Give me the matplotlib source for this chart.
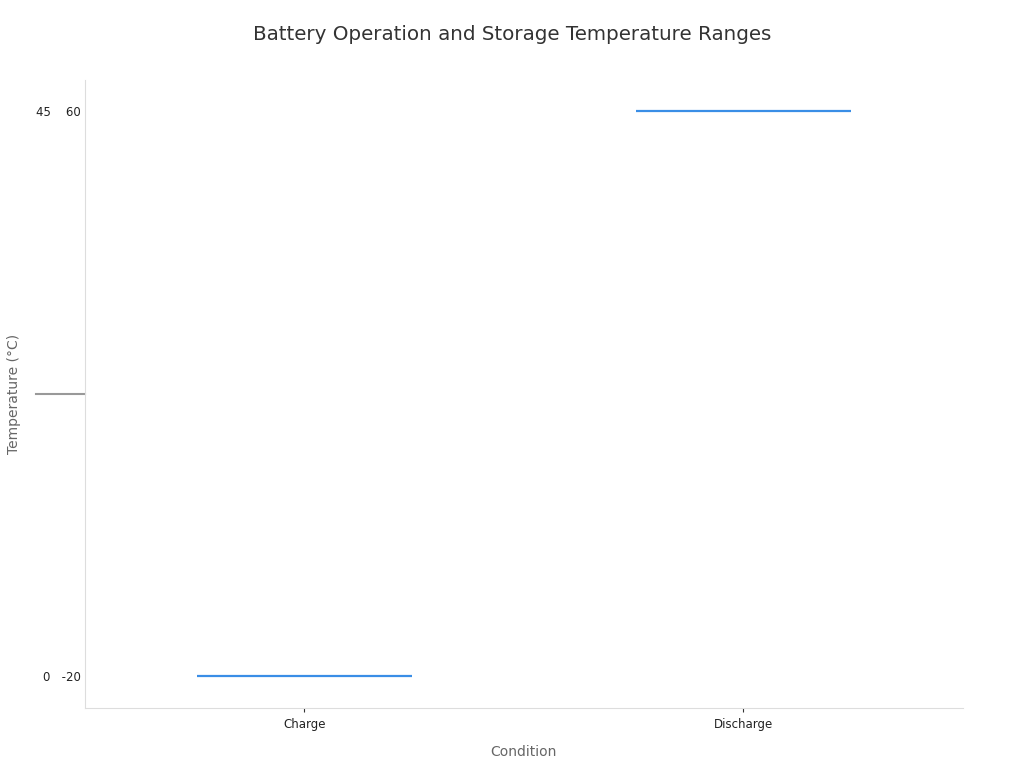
import matplotlib
matplotlib.use("Agg")
import matplotlib.pyplot as plt

conditions = ["Charge", "Discharge"]
range_labels = ["0   -20", "45    60"]
line_color = "#3a8ee6"

fig = plt.figure(figsize=(10.24, 7.68), dpi=100)
ax = fig.add_axes([0.083, 0.078, 0.857, 0.818])

x_pos = list(range(len(conditions)))
ax.hlines(x_pos, [x - 0.245 for x in x_pos], [x + 0.245 for x in x_pos],
          color=line_color, linewidth=1.6)

ax.set_xlim(-0.5, len(conditions) - 0.5)
ax.set_ylim(-0.056, 1.055)
ax.set_xticks(x_pos)
ax.set_xticklabels(conditions, fontsize=8.5, color="#222222")
ax.set_yticks(x_pos)
ax.set_yticklabels(range_labels, fontsize=8.5, color="#222222")
ax.tick_params(axis="x", length=3, width=0.8, color="#333333", pad=4)
ax.tick_params(axis="y", length=0, pad=3)

# grey marker at the midpoint, left of the axis
ax.plot([-0.056, 0], [0.5, 0.5], transform=ax.get_yaxis_transform(),
        color="#999999", linewidth=1.5, clip_on=False)

for side in ["top", "right"]:
    ax.spines[side].set_visible(False)
for side in ["left", "bottom"]:
    ax.spines[side].set_color("#dddddd")
    ax.spines[side].set_linewidth(0.8)

ax.set_xlabel("Condition", fontsize=10, color="#666666", labelpad=10)
ax.set_ylabel("Temperature (°C)", fontsize=10, color="#666666", labelpad=11)
fig.suptitle("Battery Operation and Storage Temperature Ranges",
             fontsize=14.3, color="#333333", y=0.968)

plt.savefig("out.png")
